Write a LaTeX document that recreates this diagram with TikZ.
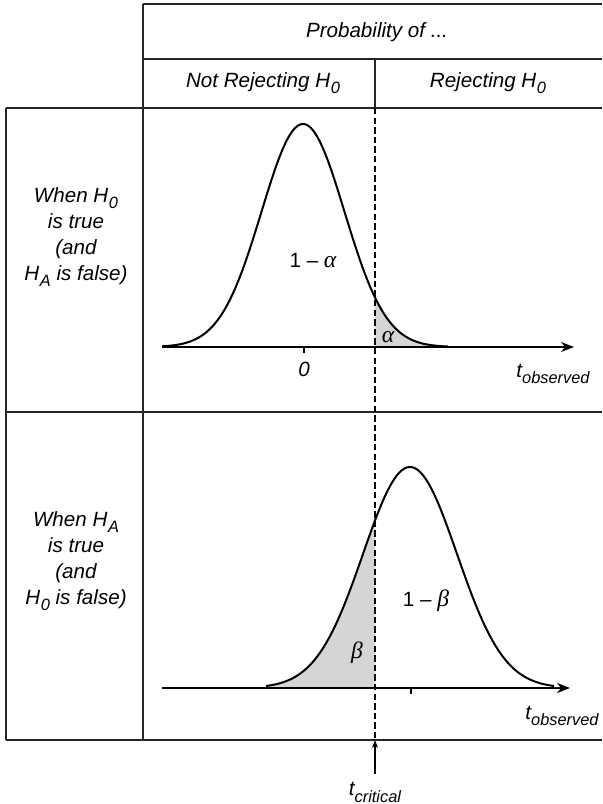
\documentclass[tikz,border=0pt]{standalone}
\usepackage{fontspec}
\setmainfont{Liberation Sans}
\newfontfamily\greekfont{Liberation Serif}
\usepackage{amsmath}
\usetikzlibrary{arrows.meta,positioning}

\definecolor{shadegray}{RGB}{212,213,215}
% lowered italic subscript as in the printed labels
\newcommand{\lowsub}[1]{\raisebox{-3.3pt}{\fontsize{8.2}{9}\selectfont\itshape #1}}
\newcommand{\Hyp}[1]{H\kern0.3pt\lowsub{#1}}
\newcommand{\grk}[1]{{\greekfont\fontsize{11.8}{13}\selectfont\itshape #1}}

\tikzset{
  gridline/.style={line width=0.7pt, draw=black!85},
  critline/.style={line width=0.95pt, dash pattern=on 3.2pt off 1.6pt},
  density/.style={line width=1pt, smooth, samples=120},
  tailarea/.style={fill=shadegray, draw=none},
  axis/.style={line width=0.7pt, -{Stealth[length=6.5pt,width=5pt]}},
  lbl/.style={font=\fontsize{10.3}{13}\selectfont\itshape, inner sep=0pt},
  rowlbl/.style={lbl, align=center},
}

\begin{document}
\begin{tikzpicture}[x=0.5pt,y=-0.5pt]
  \useasboundingbox (0,0) rectangle (602,804);

  % table frame
  \draw[gridline] (143,4) -- (602,4);
  \draw[gridline] (143,59) -- (602,59);
  \draw[gridline] (6,108) -- (602,108);
  \draw[gridline] (6,412) -- (602,412);
  \draw[gridline] (6,740) -- (602,740);
  \draw[gridline] (6,108) -- (6,740);
  \draw[gridline] (143,4) -- (143,740);
  \draw[gridline] (375,59) -- (375,108);

  % headings
  \node[lbl] (prob) at (377,32) {Probability of ...};
  \node[lbl] (notrej) at (263,83) {Not Rejecting \Hyp{0}};
  \node[lbl] (rej) at (488,83) {Rejecting \Hyp{0}};
  \node[rowlbl] (nulltrue) at (76,237) {When \Hyp{0}\\is true\\(and\\\Hyp{A} is false)};
  \node[rowlbl] (alttrue) at (76,561) {When \Hyp{A}\\is true\\(and\\\Hyp{0} is false)};

  % H0 true: shaded alpha tail, curve, axis
  \fill[tailarea] (375,347) -- plot[domain=375:448, smooth, samples=40]
    (\x, {347-223*exp(-0.5*((\x-303)/41.5)^2)}) -- (448,347) -- cycle;
  \draw[density] plot[domain=162:448] (\x, {347-223*exp(-0.5*((\x-303)/41.5)^2)});
  \coordinate (axnullL) at (162,347);
  \coordinate (axnullR) at (574,347);
  \draw[axis] (axnullL) -- (axnullR);
  \draw[line width=0.6pt] (304,347) -- (304,353);
  \node[lbl] (zero) at (304,369) {0};
  \node[lbl] (oneminusalpha) at (313,261) {\textup{1} -- \grk{α}};
  \node[lbl] (alpha) at (388,337) {\grk{α}};
  \node[lbl] (tobsnull) at (553,374) {t\lowsub{observed}};

  % HA true: shaded beta tail, curve, axis
  \fill[tailarea] (266,688) -- plot[domain=266:375, smooth, samples=60]
    (\x, {688-221*exp(-0.5*((\x-410)/47)^2)}) -- (375,688) -- cycle;
  \draw[density] plot[domain=266:554] (\x, {688-221*exp(-0.5*((\x-410)/47)^2)});
  \coordinate (axaltL) at (162,688);
  \coordinate (axaltR) at (570,688);
  \draw[axis] (axaltL) -- (axaltR);
  \draw[line width=0.6pt] (411,688) -- (411,694);
  \node[lbl] (oneminusbeta) at (426,601) {\textup{1} -- \grk{β}};
  \node[lbl] (beta) at (357,653) {\grk{β}};
  \node[lbl] (tobsalt) at (562,716) {t\lowsub{observed}};

  % critical value
  \coordinate (crittop) at (375,108);
  \coordinate (critbot) at (375,740);
  \coordinate (critfoot) at (375,774);
  \draw[critline] (crittop) -- (critbot);
  \draw[line width=0.7pt, -{Stealth[length=4pt,width=3pt]}] (critfoot) -- (critbot);
  \node[lbl, below=4pt of critfoot] (tcrit) {t\lowsub{critical}};
\end{tikzpicture}
\end{document}
